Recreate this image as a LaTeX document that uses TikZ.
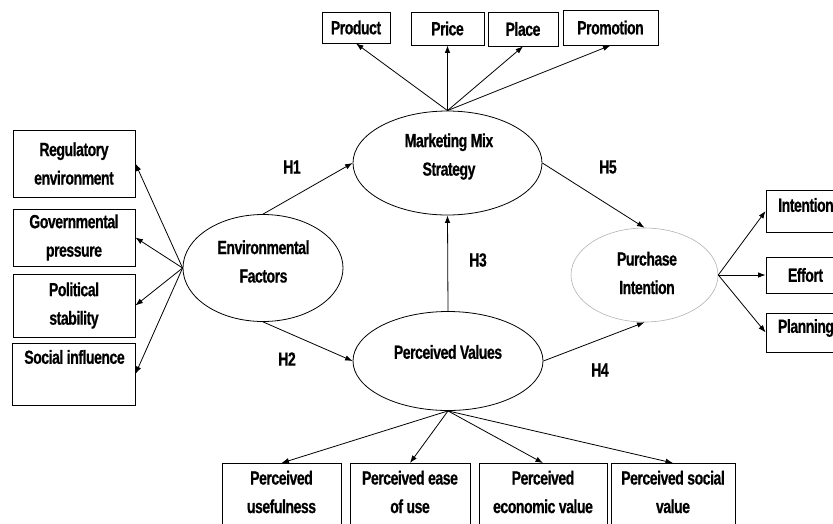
\documentclass[tikz,border=0pt]{standalone}
\usepackage{fontspec}
\newfontfamily\dfont[FakeStretch=0.74,LetterSpace=-2.5,BoldFeatures={FakeBold=0.6}]{Liberation Sans}
\usetikzlibrary{shapes.geometric,arrows.meta}
\begin{document}
\begin{tikzpicture}[x=1pt,y=-1pt,
  lbl/.style={font={\dfont\bfseries\fontsize{19}{28.5}\selectfont}, align=center, inner sep=0},
  box/.style={draw, line width=0.8pt, inner sep=0, lbl},
  ell/.style={draw, ellipse, line width=0.8pt, inner sep=0},
  arr/.style={-{Latex[length=7.5pt,width=5.5pt]}, line width=0.8pt}]
\useasboundingbox (0,0) rectangle (833,523);
\clip (0,0) rectangle (833,523);
% ellipses
\node[ell, minimum width=160, minimum height=107] (env) at (263,268) {};
\node[ell, minimum width=189, minimum height=104] (mm) at (447.5,163) {};
\node[ell, minimum width=190, minimum height=99] (pv) at (448,361) {};
\node[ell, draw=gray!60, line width=0.6pt, minimum width=147, minimum height=94] (pi) at (644.5,275) {};
\node[lbl] (envt) at (263.5,261.5) {Environmental\\Factors};
\node[lbl] (mmt) at (449,156.5) {Marketing Mix\\Strategy};
\node[lbl] (pvt) at (448,352) {Perceived Values};
\node[lbl] (pit) at (647,273) {Purchase\\Intention};
% left boxes
\node[box, minimum width=122, minimum height=67] (reg) at (74,163.5) {Regulatory\\environment};
\node[box, minimum width=122, minimum height=57] (gov) at (74,237.5) {Governmental\\pressure};
\node[box, minimum width=122, minimum height=63] (pol) at (74,305.5) {Political\\stability};
\node[box, minimum width=123, minimum height=62] (soc) at (73.5,374) {};
\node[lbl] (soct) at (74.5,357) {Social influence};
% top boxes
\node[box, minimum width=68, minimum height=31] (prod) at (356,27.5) {Product};
\node[box, minimum width=73, minimum height=33] (price) at (447.5,28.5) {Price};
\node[box, minimum width=70, minimum height=34] (place) at (523,29) {Place};
\node[box, minimum width=95, minimum height=35] (promo) at (610.5,27.5) {Promotion};
% right boxes
\node[box, minimum width=79, minimum height=42] (intn) at (805.5,211) {};
\node[lbl] (intnt) at (806,205) {Intention};
\node[box, minimum width=79, minimum height=36] (eff) at (805.5,275) {Effort};
\node[box, minimum width=79, minimum height=39] (plan) at (805.5,332.5) {};
\node[lbl] (plant) at (806,328) {Planning};
% bottom boxes
\node[box, anchor=north, minimum width=119, minimum height=97] (pu) at (281.5,463) {};
\node[box, anchor=north, minimum width=120, minimum height=97] (pe) at (410,463) {};
\node[box, anchor=north, minimum width=128, minimum height=97] (pec) at (543,463) {};
\node[box, anchor=north, minimum width=124, minimum height=97] (ps) at (673,463) {};
\node[lbl] (put) at (281.5,492) {Perceived\\usefulness};
\node[lbl] (pet) at (410,492) {Perceived ease\\of use};
\node[lbl] (pect) at (543,492) {Perceived\\economic value};
\node[lbl] (pst) at (673,492) {Perceived social\\value};
% hypothesis labels
\node[lbl] (h1) at (292,167) {H1};
\node[lbl] (h2) at (287,359) {H2};
\node[lbl] (h3) at (478,260) {H3};
\node[lbl] (h4) at (600,370) {H4};
\node[lbl] (h5) at (608,167) {H5};
% structural arrows
\draw[arr] (env.north) -- (mm.west);
\draw[arr] (env.south) -- (pv.west);
\draw[arr] (pv.north) -- (mm.south);
\draw[arr] (pv.east) -- (pi.south);
\draw[arr] (mm.east) -- (pi.north);
% indicator arrows
\draw[arr] (mm.north) -- (prod.south);
\draw[arr] (mm.north) -- (price.south);
\draw[arr] (mm.north) -- (place.south);
\draw[arr] (mm.north) -- (promo.south);
\draw[arr] (env.west) -- (reg.east);
\draw[arr] (env.west) -- (gov.east);
\draw[arr] (env.west) -- (pol.east);
\draw[arr] (env.west) -- (soc.east);
\draw[arr] (pi.east) -- (intn.west);
\draw[arr] (pi.east) -- (eff.west);
\draw[arr] (pi.east) -- (plan.west);
\draw[arr] (pv.south) -- (pu.north);
\draw[arr] (pv.south) -- (pe.north);
\draw[arr] (pv.south) -- (pec.north);
\draw[arr] (pv.south) -- (ps.north);
\end{tikzpicture}
\end{document}
